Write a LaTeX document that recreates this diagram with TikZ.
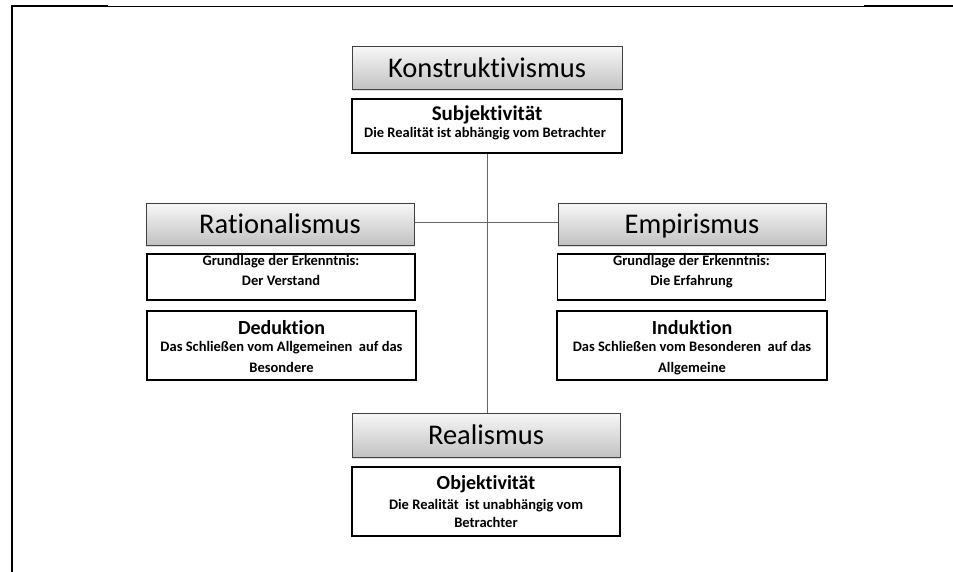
\documentclass[tikz,border=0pt]{standalone}
\usepackage{fontspec}
\setmainfont{Carlito}[Ligatures=NoCommon]
\usetikzlibrary{shadows}
\begin{document}
\begin{tikzpicture}[x=1pt,y=-1pt,
  head/.style={draw=black!75, line width=0.8pt, top color=gray!6, bottom color=gray!48,
    drop shadow={shadow xshift=0pt, shadow yshift=-1.5pt, opacity=0.25},
    font=\fontsize{28.5}{30}\selectfont, inner sep=0pt, text height=19, text depth=0},
  info/.style={draw=black, line width=1.8pt, fill=white, inner sep=0pt},
  title/.style={anchor=base, inner sep=0pt, font=\bfseries\fontsize{20}{22}\selectfont},
  body/.style={anchor=base, inner sep=0pt, align=center,
    font=\bfseries\fontsize{14.5}{19}\selectfont},
  link/.style={draw=black!60, line width=0.8pt}]
\useasboundingbox (0,0) rectangle (953,572);
% page frame
\draw[line width=2pt] (12,572) -- (12,6.5) -- (108,6.5);
\draw[line width=1pt] (108,6.5) -- (864,6.5);
\draw[line width=2pt] (864,6.5) -- (953,6.5);

% connectors (behind the boxes)
\draw[link] (487,153) coordinate (vtop) -- (487,413) coordinate (vbot);
\draw[link] (414,222) coordinate (hl) -- (558,222) coordinate (hr);

% heading boxes
\node[head, minimum width=270, minimum height=43] (konst) at (487,68) {Konstruktivismus};
\node[head, minimum width=268, minimum height=42] (rat) at (280,224) {Rationalismus};
\node[head, minimum width=268, minimum height=42] (emp) at (692,224) {Empirismus};
\node[head, minimum width=268, minimum height=44] (real) at (486,435) {Realismus};

% description boxes
\node[info, minimum width=270, minimum height=54] (subj) at (487,126) {};
\node[info, minimum width=268, minimum height=46] (grl) at (281,277) {};
\node[info, minimum width=268, minimum height=46] (grr) at (691.5,277) {};
\node[info, minimum width=269, minimum height=69] (ded) at (281.5,345.5) {};
\node[info, minimum width=270, minimum height=69] (ind) at (692,345.5) {};
\node[info, minimum width=268, minimum height=69] (obj) at (486,501.5) {};

% texts in the description boxes (multi-line texts sit on their last baseline)
\node[title, font=\bfseries\fontsize{21}{22}\selectfont] (subjT) at (487,121) {Subjektivität};
\node[body] (subjB) at (485,137.5) {Die Realität ist abhängig vom Betrachter};

\node[body, font=\bfseries\fontsize{14.5}{20}\selectfont] (grlB) at (281,285.5)
  {Grundlage der Erkenntnis:\\ Der Verstand};
\node[body, font=\bfseries\fontsize{14.5}{20}\selectfont] (grrB) at (691.5,285.5)
  {Grundlage der Erkenntnis:\\ Die Erfahrung};

\node[title] (dedT) at (281.5,334) {Deduktion};
\node[body, font=\bfseries\fontsize{14.5}{21}\selectfont] (dedB) at (281.5,372.5)
  {Das Schließen vom Allgemeinen\ \ auf das\\ Besondere};
\node[title] (indT) at (692,334) {Induktion};
\node[body, font=\bfseries\fontsize{14.5}{21}\selectfont] (indB) at (692,372.5)
  {Das Schließen vom Besonderen\ \ auf das\\ Allgemeine};

\node[title] (objT) at (486,489.5) {Objektivität};
\node[body, font=\bfseries\fontsize{14.5}{18}\selectfont] (objB) at (486,527)
  {Die Realität\ \ ist unabhängig vom\\ Betrachter};
\end{tikzpicture}
\end{document}
